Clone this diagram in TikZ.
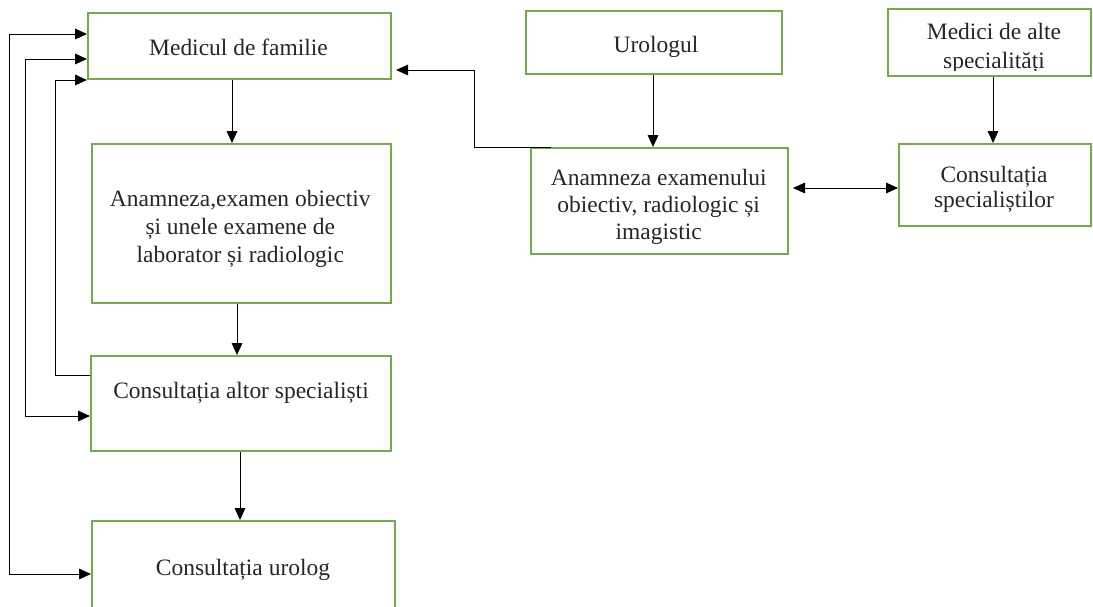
\documentclass[tikz,border=0pt]{standalone}
\usepackage{fontspec}
\setmainfont{Liberation Serif}
\usetikzlibrary{arrows.meta,fit,calc}
\definecolor{boxgreen}{HTML}{70AD47}
\definecolor{inkgray}{HTML}{262626}

\begin{document}
\begin{tikzpicture}[x=0.75pt,y=-0.75pt,
  box/.style={draw=boxgreen, line width=1.5pt, inner sep=0pt},
  txt/.style={inner sep=0pt, text=inkgray, align=center, font=\fontsize{17.6}{21}\selectfont},
  arr/.style={line width=0.75pt, -{Triangle[length=9pt,width=8pt]}},
  twoarr/.style={line width=0.75pt, {Triangle[length=9pt,width=8pt]}-{Triangle[length=9pt,width=8pt]}}
]
\useasboundingbox (0,0) rectangle (1093,607);

%% left column
\node[box, fit={(88,13) (391,79)}] (med) {};
\node[box, fit={(92,144) (391,303)}] (anam) {};
\node[box, fit={(91,356) (391,451)}] (altor) {};
\node[box, fit={(92,521) (395,613)}] (urolog) {};

\node[txt, anchor=base] (med-t) at (238.5,55) {Medicul de familie};
\node[txt] (anam-t) at (240.3,229) {Anamneza,examen obiectiv\\și unele examene de\\laborator și radiologic};
\node[txt, anchor=base] (altor-t) at (241,398) {Consultația altor specialiști};
\node[txt, anchor=base] (urolog-t) at (243,575) {Consultația urolog};

%% right part
\node[box, fit={(526,11) (782,74)}] (uro) {};
\node[box, fit={(531,148) (788,254)}] (exam) {};
\node[box, fit={(888,9) (1091,76)}] (medici) {};
\node[box, fit={(899,144) (1091,226)}] (spec) {};

\node[txt, anchor=base] (uro-t) at (656,52) {Urologul};
\node[txt, font=\fontsize{17.6}{20}\selectfont] (exam-t) at (658.7,207) {Anamneza examenului\\obiectiv, radiologic și\\imagistic};
\begin{scope}
\clip (888,9) rectangle (1091,70);
\node[txt, font=\fontsize{17.6}{22}\selectfont] (medici-t) at (994,48.5) {Medici de alte\\specialități};
\end{scope}
\node[txt, font=\fontsize{17.6}{19}\selectfont] (spec-t) at (994,189.5) {Consultația\\specialiștilor};

%% arrows down
\draw[arr] ($(med.south)+(-7.5,0)$) -- ($(anam.north)+(-9.5,0)$);
\draw[arr] ($(anam.south)+(-4.5,0)$) -- ($(altor.north)+(-4,0)$);
\draw[arr] ($(altor.south)+(-1,0)$) -- ($(urolog.north)+(-3.5,0)$);
\draw[arr] ($(uro.south)+(-1,0)$) -- ($(exam.north)+(-6.5,0)$);
\draw[arr] ($(medici.south)+(3.5,0)$) -- ($(spec.north)+(-2,0)$);

%% between the right boxes
\draw[twoarr] ($(exam.east)+(4,-13)$) -- ($(spec.west)+(0,3)$);
\draw[arr] ($(exam.north west)+(21,0)$) -| ($(med.east)+(82,24)$) -- ($(med.east)+(4,24)$);

%% back to the family doctor
\draw[twoarr] ($(med.west)+(0,-12)$) -| ($(urolog.west)+(-82,7)$) -- ($(urolog.west)+(0,7)$);
\draw[twoarr] ($(med.west)+(0,13)$) -| ($(altor.west)+(-65,12.5)$) -- ($(altor.west)+(0,12.5)$);
\draw[arr] ($(altor.west)+(0,-28.5)$) -| ($(med.south west)+(-32,0)$) -- (med.south west);
\end{tikzpicture}
\end{document}
